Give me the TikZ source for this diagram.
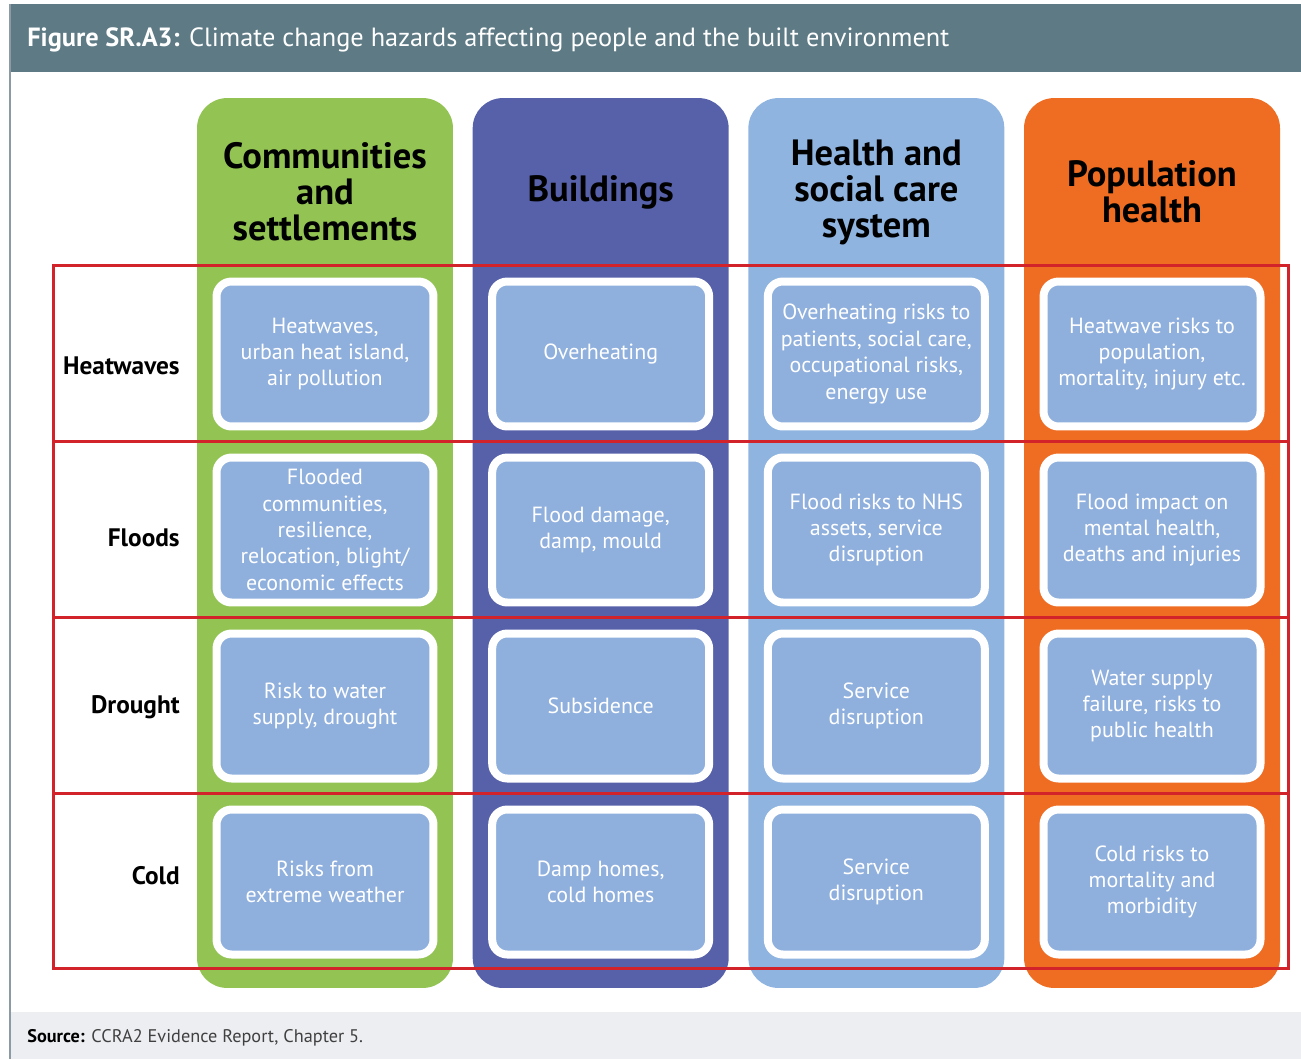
\documentclass[tikz,border=0pt]{standalone}
\usepackage{fontspec}
\setmainfont{PT Sans}
\usetikzlibrary{calc}
\definecolor{TitleClr}{RGB}{93,122,133}
\definecolor{GreenClr}{RGB}{146,195,83}
\definecolor{PurpleClr}{RGB}{87,97,169}
\definecolor{SkyClr}{RGB}{143,180,224}
\definecolor{OrangeClr}{RGB}{238,109,34}
\definecolor{CellClr}{RGB}{143,175,221}
\definecolor{RowClr}{RGB}{210,35,42}
\definecolor{SourceClr}{RGB}{237,238,242}
\definecolor{FrameClr}{RGB}{140,155,163}

\begin{document}
\begin{tikzpicture}[x=0.02cm,y=-0.02cm,
  column/.style={rounded corners=0.6cm,minimum width=5.12cm,minimum height=17.8cm,inner sep=0pt},
  cell/.style={fill=CellClr,draw=white,line width=0.16cm,rounded corners=0.3cm,
    minimum width=4.34cm,minimum height=2.9cm,inner sep=0pt,align=center,text=white,
    font=\fontsize{12.5}{15}\selectfont},
  head/.style={align=center,font=\fontsize{20.8}{20.5}\selectfont\bfseries},
  hazard/.style={anchor=east,inner sep=0pt,font=\fontsize{14.4}{16}\selectfont\bfseries},
  rowline/.style={draw=RowClr,line width=0.06cm}]

\useasboundingbox (0,0) rectangle (1301,1059);

% frame, title and source
\fill[TitleClr] (10,4) rectangle (1301,72);
\fill[SourceClr] (10,1012) rectangle (1301,1059);
\draw[FrameClr,line width=0.04cm] (10,4) -- (10,1059);
\node[anchor=west,inner sep=0pt,text=white,font=\fontsize{15}{17}\selectfont] (title) at (27,40)
  {\textbf{Figure SR.A3:} Climate change hazards affecting people and the built environment};
\node[anchor=west,inner sep=0pt,text=black!75,font=\fontsize{10.4}{12}\selectfont] (source) at (27,1038)
  {\textbf{\color{black}Source:} CCRA2 Evidence Report, Chapter 5.};

% columns
\foreach \c/\clr/\hd in {1/GreenClr/{Communities\\and\\settlements},
    2/PurpleClr/{Buildings},
    3/SkyClr/{Health and\\social care\\system},
    4/OrangeClr/{Population\\health}}{
  \node[column,fill=\clr] (col-\c) at ({49.33+275.67*\c},543) {};
  \node[head] (head-\c) at ({49.33+275.67*\c},192) {\hd};
}

% hazard rows
\draw[rowline] (53,265) rectangle (1288,968);
\foreach \y in {441,617,793}
  \draw[rowline] (53,\y) -- (1288,\y);

\node[hazard] (heat) at (180,366) {Heatwaves};
\node[hazard] (flood) at (180,538) {Floods};
\node[hazard] (drought) at (180,707) {Drought};
\node[hazard] (cold) at (180,876) {Cold};

% cells
\foreach \c/\r/\t in {
    1/1/{Heatwaves,\\urban heat island,\\air pollution},
    1/2/{Flooded\\communities,\\resilience,\\relocation, blight/\\economic effects},
    1/3/{Risk to water\\supply, drought},
    1/4/{Risks from\\extreme weather},
    2/1/{Overheating},
    2/2/{Flood damage,\\damp, mould},
    2/3/{Subsidence},
    2/4/{Damp homes,\\cold homes},
    3/1/{Overheating risks to\\patients, social care,\\occupational risks,\\energy use},
    3/2/{Flood risks to NHS\\assets, service\\disruption},
    3/3/{Service\\disruption},
    3/4/{Service\\disruption},
    4/1/{Heatwave risks to\\population,\\mortality, injury etc.},
    4/2/{Flood impact on\\mental health,\\deaths and injuries},
    4/3/{Water supply\\failure, risks to\\public health},
    4/4/{Cold risks to\\mortality and\\morbidity}}
  \node[cell] (cell-\c-\r) at ({49.33+275.67*\c},{178+176*\r}) {\t};

\end{tikzpicture}
\end{document}
